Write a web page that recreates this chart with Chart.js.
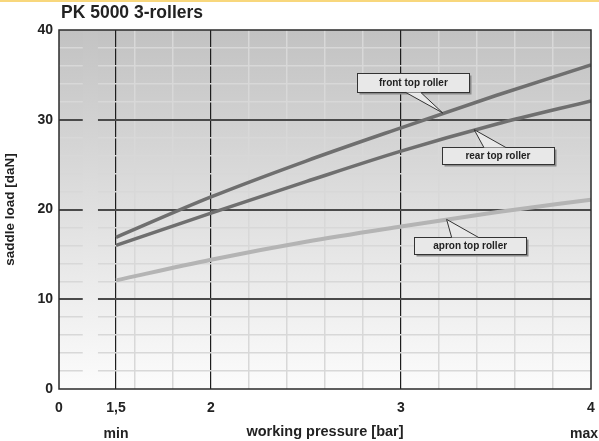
<!DOCTYPE html>
<html>
<head>
<meta charset="utf-8">
<script src="https://cdn.jsdelivr.net/npm/chart.js@4/dist/chart.umd.min.js"></script>
<style>
  body { margin: 0; background: #fff; }
  #wrap { width: 599px; height: 441px; }
</style>
</head>
<body>
<div id="wrap"><canvas id="chart" width="599" height="441"></canvas></div>
<script>
// working pressure [bar] vs. saddle load [daN]
const pressure = [1.5, 2, 2.5, 3, 3.5, 4];
const frontTop = [16.9, 21.4, 25.4, 29.1, 32.7, 36.1];
const rearTop  = [16.0, 19.6, 23.1, 26.5, 29.5, 32.1];
const apronTop = [12.1, 14.4, 16.4, 18.1, 19.7, 21.1];

// x axis starts at a break, so the left edge is labelled "0"
const xTicks = [1.2, 1.5, 1.6, 1.8, 2, 2.2, 2.4, 2.6, 2.8, 3, 3.2, 3.4, 3.6, 3.8, 4];
const xTickLabels = { 1.2: '0', 1.5: '1,5', 2: '2', 3: '3', 4: '4' };
const xMajor = [1.5, 2, 3];
const yMajor = [10, 20, 30];

// callouts: text, point on the curve, box centre (data units), pointer base offset/width (px)
const callouts = [
  { text: 'front top roller', tip: [3.22, 30.75], box: [3.065, 34.1], h: 19, dx: 0,  bw: 15 },
  { text: 'rear top roller',  tip: [3.385, 28.9], box: [3.51, 26.0],  h: 17, dx: -3, bw: 22 },
  { text: 'apron top roller', tip: [3.24, 18.9],  box: [3.364, 16.0], h: 17, dx: -5, bw: 27 }
];

const FONT = '"Liberation Sans", Arial, sans-serif';

function areaGradient(ctx, a, top, bottom) {
  const g = ctx.createLinearGradient(0, a.top, 0, a.bottom);
  g.addColorStop(0, top);
  g.addColorStop(1, bottom);
  return g;
}

const decor = {
  id: 'decor',
  beforeDraw(chart) {
    const { ctx, chartArea: a } = chart;
    ctx.save();
    ctx.fillStyle = '#f8d77c';
    ctx.fillRect(0, 0, chart.width, 2);
    ctx.fillStyle = areaGradient(ctx, a, '#c2c2c2', '#fcfcfc');
    ctx.fillRect(a.left, a.top, a.width, a.height);
    ctx.restore();
  },
  beforeDatasetsDraw(chart) {
    const { ctx, chartArea: a, scales: { x } } = chart;
    // gap in the gridlines marking the axis break
    const x0 = x.getPixelForValue(1.325), x1 = x.getPixelForValue(1.405);
    ctx.save();
    ctx.fillStyle = areaGradient(ctx, a, '#c3c3c3', '#fcfcfc');
    ctx.fillRect(x0, a.top + 1, x1 - x0, a.height - 2);
    ctx.restore();
  },
  afterDatasetsDraw(chart) {
    const { ctx, chartArea: a, scales: { x, y } } = chart;
    ctx.save();
    ctx.strokeStyle = '#2b2b2b';
    ctx.lineWidth = 1.5;
    ctx.strokeRect(a.left, a.top, a.width, a.height);

    ctx.font = 'bold 10px ' + FONT;
    ctx.textAlign = 'center';
    ctx.textBaseline = 'middle';
    callouts.forEach(c => {
      const tx = x.getPixelForValue(c.tip[0]), ty = y.getPixelForValue(c.tip[1]);
      const cx = x.getPixelForValue(c.box[0]), cy = y.getPixelForValue(c.box[1]);
      const w = 112, h = c.h;
      const left = Math.round(cx - w / 2) + 0.5, top = Math.round(cy - h / 2) + 0.5;
      // shadow + box
      ctx.fillStyle = '#8a8a8a';
      ctx.fillRect(left + 2, top + 2, w, h);
      ctx.fillStyle = '#e8e8e8';
      ctx.fillRect(left, top, w, h);
      ctx.strokeStyle = '#333';
      ctx.lineWidth = 1;
      ctx.strokeRect(left, top, w, h);
      // pointer
      const baseY = ty < top ? top : top + h;
      const bx = cx + c.dx;
      ctx.beginPath();
      ctx.moveTo(bx - c.bw / 2, baseY);
      ctx.lineTo(tx, ty);
      ctx.lineTo(bx + c.bw / 2, baseY);
      ctx.closePath();
      ctx.fill();
      ctx.beginPath();
      ctx.moveTo(bx - c.bw / 2, baseY);
      ctx.lineTo(tx, ty);
      ctx.lineTo(bx + c.bw / 2, baseY);
      ctx.stroke();
      ctx.fillStyle = '#222';
      ctx.fillText(c.text, cx, top + h / 2 + 0.5);
    });
    ctx.restore();
  },
  afterDraw(chart) {
    const { ctx, chartArea: a, scales: { x } } = chart;
    ctx.save();
    ctx.fillStyle = '#222';
    ctx.textBaseline = 'alphabetic';
    ctx.font = 'bold 17.5px ' + FONT;
    ctx.textAlign = 'left';
    ctx.fillText('PK 5000 3-rollers', a.left + 2, 18);
    ctx.font = 'bold 14px ' + FONT;
    ctx.textAlign = 'center';
    ctx.fillText('min', x.getPixelForValue(1.5), 438);
    ctx.textAlign = 'right';
    ctx.fillText('max', chart.width - 1, 438);
    ctx.restore();
  }
};

new Chart(document.getElementById('chart'), {
  type: 'line',
  data: {
    labels: pressure,
    datasets: [
      { label: 'front top roller', data: pressure.map((p, i) => ({ x: p, y: frontTop[i] })), borderColor: '#6f6f6f', borderWidth: 3.5 },
      { label: 'rear top roller', data: pressure.map((p, i) => ({ x: p, y: rearTop[i] })), borderColor: '#6f6f6f', borderWidth: 3.5 },
      { label: 'apron top roller', data: pressure.map((p, i) => ({ x: p, y: apronTop[i] })), borderColor: '#b4b4b4', borderWidth: 4 }
    ]
  },
  options: {
    responsive: false,
    animation: false,
    layout: { padding: { top: 30, right: 8, left: 0, bottom: 0 } },
    elements: {
      point: { radius: 0 },
      line: { tension: 0.4, cubicInterpolationMode: 'monotone', fill: false }
    },
    plugins: { legend: { display: false }, tooltip: { enabled: false } },
    scales: {
      x: {
        type: 'linear',
        min: 1.2,
        max: 4,
        afterBuildTicks: s => { s.ticks = xTicks.map(v => ({ value: v })); },
        afterFit: s => { s.height = 52; s.paddingLeft = 0; s.paddingRight = 0; },
        border: { display: false },
        grid: {
          drawTicks: false,
          color: c => xMajor.includes(c.tick.value) ? '#1e1e1e' : (c.tick.value === 1.2 || c.tick.value === 4 ? 'transparent' : '#d8d8d8'),
          lineWidth: c => xMajor.includes(c.tick.value) ? 1.2 : 1.5
        },
        ticks: {
          autoSkip: false,
          maxRotation: 0,
          padding: 11,
          color: '#222',
          font: { family: FONT, size: 14, weight: 'bold' },
          callback: v => xTickLabels[v] ?? ''
        },
        title: {
          display: true,
          text: 'working pressure [bar]',
          color: '#222',
          font: { family: FONT, size: 14.5, weight: 'bold' },
          padding: { top: 0, bottom: 0 }
        }
      },
      y: {
        min: 0,
        max: 40,
        afterFit: s => { s.width = 59; s.paddingTop = 0; s.paddingBottom = 0; },
        border: { display: false },
        grid: {
          drawTicks: false,
          color: c => yMajor.includes(c.tick.value) ? '#4a4a4a' : (c.tick.value === 0 || c.tick.value === 40 ? 'transparent' : '#d8d8d8'),
          lineWidth: c => yMajor.includes(c.tick.value) ? 2 : 1.5
        },
        ticks: {
          autoSkip: false,
          stepSize: 2,
          padding: 6,
          color: '#222',
          font: { family: FONT, size: 14, weight: 'bold' },
          callback: v => v % 10 === 0 ? v : ''
        },
        title: {
          display: true,
          text: 'saddle load [daN]',
          color: '#222',
          font: { family: FONT, size: 13.5, weight: 'bold' },
          padding: { top: 2, bottom: 0 }
        }
      }
    }
  },
  plugins: [decor]
});
</script>
</body>
</html>
